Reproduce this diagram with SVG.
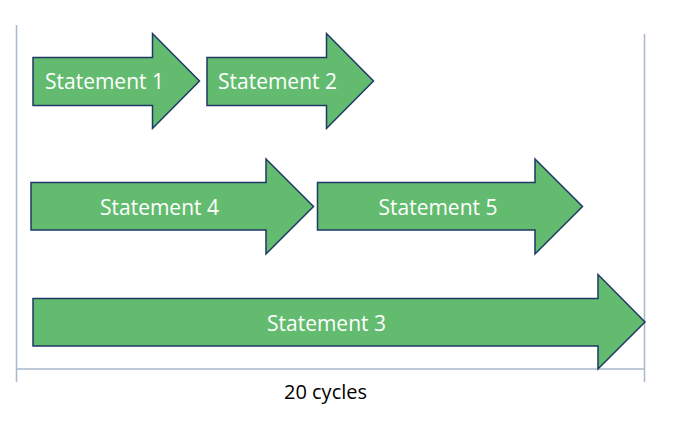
<svg xmlns="http://www.w3.org/2000/svg" width="677" height="422" viewBox="0 0 677 422">
<style>
.arrow{fill:#63bb6f;stroke:#1f3864;stroke-width:1.5;stroke-linejoin:miter}
.lbl{font-family:"Open Sans","Liberation Sans",sans-serif;font-size:21px;fill:#ffffff;text-anchor:middle}
.axis{stroke:#a9b8cb;stroke-width:1.5;fill:none}
.cap{font-family:"Open Sans","Liberation Sans",sans-serif;font-size:20px;fill:#000000;text-anchor:middle}
</style>
<rect width="677" height="422" fill="#ffffff"/>
<g id="axes">
<line class="axis" x1="16.5" y1="25" x2="16.5" y2="382"/>
<line class="axis" x1="644.5" y1="34" x2="644.5" y2="382"/>
<line class="axis" x1="16.5" y1="369" x2="644.5" y2="369"/>
<text class="cap" x="325.5" y="399">20 cycles</text>
</g>
<g id="connectors"></g>
<g id="statement1">
<polygon class="arrow" points="33,57.5 152.5,57.5 152.5,33.5 199.5,81 152.5,128.5 152.5,105.5 33,105.5"/>
<text class="lbl" x="104.5" y="89">Statement 1</text>
</g>
<g id="statement2">
<polygon class="arrow" points="207,57.5 326.5,57.5 326.5,33.5 373.5,81 326.5,128.5 326.5,105.5 207,105.5"/>
<text class="lbl" x="277.5" y="89">Statement 2</text>
</g>
<g id="statement4">
<polygon class="arrow" points="31,182.5 266,182.5 266,159 313.5,206.5 266,254 266,230 31,230"/>
<text class="lbl" x="159.5" y="214.5">Statement 4</text>
</g>
<g id="statement5">
<polygon class="arrow" points="317.5,182.5 535,182.5 535,159 582.5,206.5 535,254 535,230 317.5,230"/>
<text class="lbl" x="438" y="214.5">Statement 5</text>
</g>
<g id="statement3">
<polygon class="arrow" points="33,298.5 598,298.5 598,274.5 645,322 598,369 598,346 33,346"/>
<text class="lbl" x="326.5" y="330.5">Statement 3</text>
</g>
</svg>
